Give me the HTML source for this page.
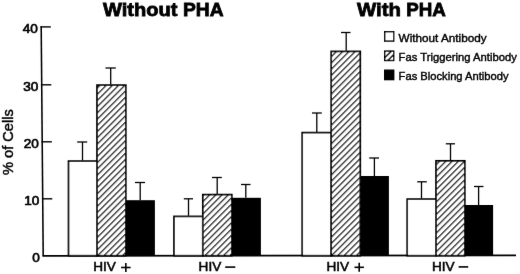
<!DOCTYPE html>
<html><head><meta charset="utf-8"><style>
html,body{margin:0;padding:0;background:#fff;}
body{width:520px;height:274px;overflow:hidden;}
svg{display:block;filter:grayscale(1);}
text{font-family:"Liberation Sans",sans-serif;fill:#000;}
.tk{font-size:13.6px;stroke:#000;stroke-width:0.45px;}
.num{font-size:13.6px;stroke:#000;stroke-width:0.7px;}
.ttl{font-size:19px;font-weight:bold;stroke:#000;stroke-width:0.8px;}
.lg{font-size:10.8px;stroke:#000;stroke-width:0.4px;}
.xl{font-size:13.6px;stroke:#000;stroke-width:0.55px;}
</style></head><body>
<svg width="520" height="274" viewBox="0 0 520 274">
<defs>
<filter id="bl" x="0" y="0" width="520" height="274" filterUnits="userSpaceOnUse"><feConvolveMatrix order="3" kernelMatrix="0.0028 0.0470 0.0028 0.0470 0.8008 0.0470 0.0028 0.0470 0.0028" edgeMode="duplicate" preserveAlpha="false"/></filter>
<pattern id="hatch0" patternUnits="userSpaceOnUse" width="4.4" height="4.4" patternTransform="translate(-2.3,0) rotate(45)"><rect width="4.4" height="4.4" fill="#fff"/><line x1="0.6" y1="-1" x2="0.6" y2="6" stroke="#000" stroke-width="1.2"/></pattern>
<pattern id="hatch1" patternUnits="userSpaceOnUse" width="4.4" height="4.4" patternTransform="translate(-0.9,0) rotate(45)"><rect width="4.4" height="4.4" fill="#fff"/><line x1="0.6" y1="-1" x2="0.6" y2="6" stroke="#000" stroke-width="1.2"/></pattern>
<pattern id="hatch2" patternUnits="userSpaceOnUse" width="4.4" height="4.4" patternTransform="translate(1.3,0) rotate(45)"><rect width="4.4" height="4.4" fill="#fff"/><line x1="0.6" y1="-1" x2="0.6" y2="6" stroke="#000" stroke-width="1.2"/></pattern>
<pattern id="hatch3" patternUnits="userSpaceOnUse" width="4.4" height="4.4" patternTransform="translate(-3.6,0) rotate(45)"><rect width="4.4" height="4.4" fill="#fff"/><line x1="0.6" y1="-1" x2="0.6" y2="6" stroke="#000" stroke-width="1.2"/></pattern>
</defs>
<rect width="520" height="274" fill="#fff"/>
<g filter="url(#bl)">
<text class="ttl" x="103" y="16.2" textLength="74.5" lengthAdjust="spacingAndGlyphs">Without</text><text class="ttl" x="183" y="16.2" textLength="40.6" lengthAdjust="spacingAndGlyphs">PHA</text>
<text class="ttl" x="357" y="16.2" textLength="44" lengthAdjust="spacingAndGlyphs">With</text><text class="ttl" x="406.2" y="16.2" textLength="39.6" lengthAdjust="spacingAndGlyphs">PHA</text>
<line x1="41.20" y1="26.2" x2="43.20" y2="255.7" stroke="#000" stroke-width="1.55"/>
<line x1="42.40" y1="255.8" x2="516" y2="255.35" stroke="#000" stroke-width="1.75"/>
<line x1="40.40" y1="26.9" x2="50.80" y2="26.9" stroke="#000" stroke-width="1.4"/>
<line x1="40.91" y1="84.8" x2="51.31" y2="84.8" stroke="#000" stroke-width="1.4"/>
<line x1="41.41" y1="141.8" x2="51.81" y2="141.8" stroke="#000" stroke-width="1.4"/>
<line x1="41.90" y1="198.8" x2="52.30" y2="198.8" stroke="#000" stroke-width="1.4"/>
<text x="37.90" y="33.10" text-anchor="end" class="num">40</text>
<text x="38.41" y="91.00" text-anchor="end" class="num">30</text>
<text x="38.91" y="148.00" text-anchor="end" class="num">20</text>
<text x="39.40" y="205.00" text-anchor="end" class="num">10</text>
<text x="39.90" y="261.90" text-anchor="end" class="num">0</text>
<line x1="82.5" y1="142" x2="82.5" y2="160.5" stroke="#000" stroke-width="1.3"/>
<line x1="77.2" y1="142" x2="87.2" y2="142" stroke="#000" stroke-width="1.3"/>
<line x1="110.7" y1="68" x2="110.7" y2="84.5" stroke="#000" stroke-width="1.3"/>
<line x1="105.5" y1="68" x2="115.8" y2="68" stroke="#000" stroke-width="1.3"/>
<line x1="140.2" y1="182.5" x2="140.2" y2="200.2" stroke="#000" stroke-width="1.3"/>
<line x1="135" y1="182.5" x2="145" y2="182.5" stroke="#000" stroke-width="1.3"/>
<line x1="188.5" y1="198.8" x2="188.5" y2="215.8" stroke="#000" stroke-width="1.3"/>
<line x1="183.8" y1="198.8" x2="193" y2="198.8" stroke="#000" stroke-width="1.3"/>
<line x1="217.2" y1="177.5" x2="217.2" y2="194" stroke="#000" stroke-width="1.3"/>
<line x1="212" y1="177.5" x2="221.8" y2="177.5" stroke="#000" stroke-width="1.3"/>
<line x1="245.8" y1="184.5" x2="245.8" y2="197.8" stroke="#000" stroke-width="1.3"/>
<line x1="241" y1="184.5" x2="250.5" y2="184.5" stroke="#000" stroke-width="1.3"/>
<line x1="316.8" y1="113" x2="316.8" y2="132" stroke="#000" stroke-width="1.3"/>
<line x1="312" y1="113" x2="321.8" y2="113" stroke="#000" stroke-width="1.3"/>
<line x1="346.2" y1="32.5" x2="346.2" y2="50.8" stroke="#000" stroke-width="1.3"/>
<line x1="341" y1="32.5" x2="350.5" y2="32.5" stroke="#000" stroke-width="1.3"/>
<line x1="374.4" y1="158" x2="374.4" y2="176.0" stroke="#000" stroke-width="1.3"/>
<line x1="369.2" y1="158" x2="379" y2="158" stroke="#000" stroke-width="1.3"/>
<line x1="421.5" y1="181.8" x2="421.5" y2="198.5" stroke="#000" stroke-width="1.3"/>
<line x1="417.2" y1="181.8" x2="426.8" y2="181.8" stroke="#000" stroke-width="1.3"/>
<line x1="450.5" y1="143.8" x2="450.5" y2="160.2" stroke="#000" stroke-width="1.3"/>
<line x1="445.8" y1="143.8" x2="455" y2="143.8" stroke="#000" stroke-width="1.3"/>
<line x1="478.6" y1="186.5" x2="478.6" y2="205.0" stroke="#000" stroke-width="1.3"/>
<line x1="474" y1="186.5" x2="483.5" y2="186.5" stroke="#000" stroke-width="1.3"/>
<rect x="68.5" y="161.10" width="28.50" height="94.60" fill="#fff" stroke="#000" stroke-width="1.7"/>
<rect x="97" y="85.10" width="28.80" height="170.60" fill="url(#hatch0)" stroke="#000" stroke-width="1.7"/>
<rect x="125.8" y="200.2" width="29.10" height="55.50" fill="#000"/>
<rect x="174" y="216.40" width="28.80" height="39.30" fill="#fff" stroke="#000" stroke-width="1.7"/>
<rect x="202.8" y="194.60" width="29.00" height="61.10" fill="url(#hatch1)" stroke="#000" stroke-width="1.7"/>
<rect x="231.8" y="197.8" width="29.10" height="57.90" fill="#000"/>
<rect x="302.2" y="132.60" width="29.00" height="123.10" fill="#fff" stroke="#000" stroke-width="1.7"/>
<rect x="331.2" y="51.40" width="29.10" height="204.30" fill="url(#hatch2)" stroke="#000" stroke-width="1.7"/>
<rect x="360.3" y="176.0" width="28.60" height="79.70" fill="#000"/>
<rect x="407.2" y="199.10" width="28.80" height="56.60" fill="#fff" stroke="#000" stroke-width="1.7"/>
<rect x="436" y="160.80" width="28.80" height="94.90" fill="url(#hatch3)" stroke="#000" stroke-width="1.7"/>
<rect x="464.8" y="205.0" width="28.30" height="50.70" fill="#000"/>
<text class="tk" transform="translate(13.2,175) rotate(-90)" textLength="65.7" lengthAdjust="spacingAndGlyphs" style="font-size:14.2px">% of Cells</text>
<text class="xl" x="93.2" y="271.3">HIV</text>
<text class="xl" x="198.6" y="271.3">HIV</text>
<text class="xl" x="326.4" y="271.3">HIV</text>
<text class="xl" x="431.9" y="271.3">HIV</text>
<g stroke="#000" stroke-width="1.6">
<line x1="121.1" y1="267.5" x2="130.6" y2="267.5"/><line x1="125.85" y1="262.9" x2="125.85" y2="272"/>
<line x1="354.5" y1="267.3" x2="363.9" y2="267.3"/><line x1="359.2" y1="262.7" x2="359.2" y2="271.8"/>
<line x1="225.2" y1="267.1" x2="235.3" y2="267.1"/>
<line x1="458.6" y1="266.9" x2="468.2" y2="266.9"/>
</g>
<!-- legend -->
<rect x="384.7" y="31.7" width="9" height="9.4" fill="#fff" stroke="#000" stroke-width="1.4"/>
<rect x="384.7" y="51.1" width="9" height="9.4" fill="#fff" stroke="#000" stroke-width="1.4"/>
<line x1="384.7" y1="57.8" x2="391.4" y2="51.1" stroke="#000" stroke-width="1.5"/>
<line x1="387.8" y1="60.5" x2="393.7" y2="54.6" stroke="#000" stroke-width="1.5"/>
<rect x="384.7" y="70.2" width="9" height="9.4" fill="#000" stroke="#000" stroke-width="1.4"/>
<text class="lg" x="398.6" y="41.6" textLength="88" lengthAdjust="spacingAndGlyphs">Without Antibody</text>
<text class="lg" x="398.6" y="60.5" textLength="118.2" lengthAdjust="spacingAndGlyphs">Fas Triggering Antibody</text>
<text class="lg" x="398.6" y="79.6" textLength="110" lengthAdjust="spacingAndGlyphs">Fas Blocking Antibody</text>
</g>
</svg>
</body></html>
